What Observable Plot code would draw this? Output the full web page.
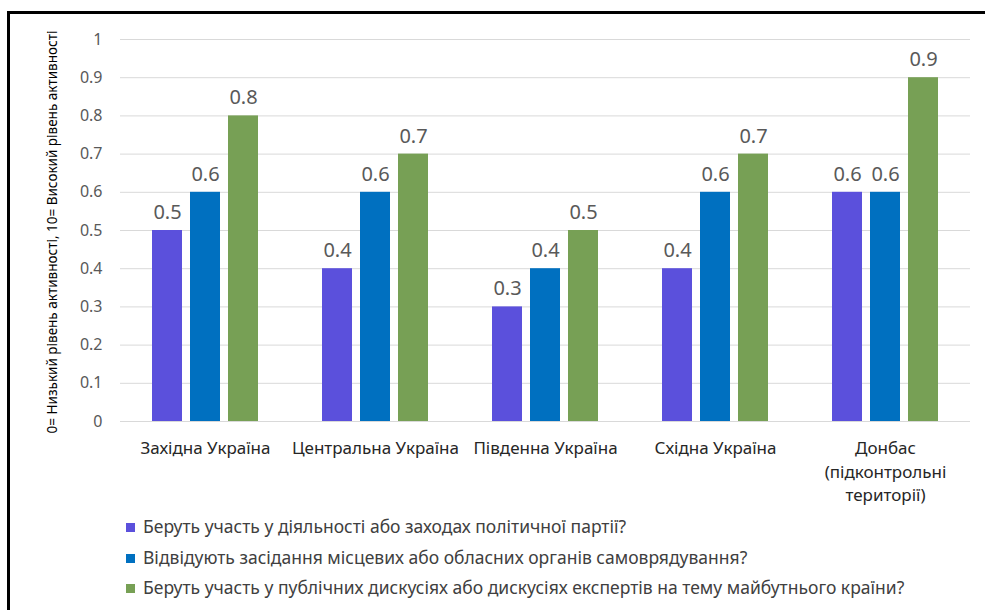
<!DOCTYPE html>
<html>
<head>
<meta charset="utf-8">
<script src="https://cdn.jsdelivr.net/npm/d3@7"></script>
<script src="https://cdn.jsdelivr.net/npm/@observablehq/plot@0.6"></script>
<style>
  html, body { margin: 0; padding: 0; background: #fff; width: 985px; height: 610px; overflow: hidden; }
  #frame { position: absolute; left: 7px; top: 11px; width: 1000px; height: 640px; border-left: 3px solid #000; border-top: 3px solid #000; box-sizing: border-box; }
  #chart { position: absolute; left: 0; top: 0; }
  #ylabel { position: absolute; left: 52px; top: 232px; transform: translate(-50%, -50%) rotate(-90deg); white-space: nowrap;
    font-family: "Noto Sans", sans-serif; font-size: 13.5px; color: #000; }
  #legend { position: absolute; left: 126px; top: 513px; font-family: "Noto Sans", sans-serif; font-size: 17.5px; color: #404040; }
  #legend .row { height: 30.5px; line-height: 27px; white-space: nowrap; }
  #legend .sw { display: inline-block; width: 9px; height: 9px; margin-right: 8px; vertical-align: 1px; }
</style>
</head>
<body>
<div id="frame"></div>
<div id="chart"></div>
<div id="ylabel"></div>
<div id="legend"></div>
<script>
const regions = ["Західна Україна", "Центральна Україна", "Південна Україна", "Східна Україна", "Донбас\n(підконтрольні\nтериторії)"];
const series = [
  "Беруть участь у діяльності або заходах політичної партії?",
  "Відвідують засідання місцевих або обласних органів самоврядування?",
  "Беруть участь у публічних дискусіях або дискусіях експертів на тему майбутнього країни?"
];
const colors = ["#5B50DC", "#0070C0", "#77A055"];
const party = [0.5, 0.4, 0.3, 0.4, 0.6];
const councils = [0.6, 0.6, 0.4, 0.6, 0.6];
const debates = [0.8, 0.7, 0.5, 0.7, 0.9];
const yTicks = [0, 0.1, 0.2, 0.3, 0.4, 0.5, 0.6, 0.7, 0.8, 0.9, 1];
const yLabel = "0= Низький рівень активності, 10= Високий рівень активності";

const valuesBySeries = [party, councils, debates];
const data = [];
regions.forEach((r, i) => {
  series.forEach((s, j) => data.push({region: r, series: s, value: valuesBySeries[j][i]}));
});

const chart = Plot.plot({
  width: 985,
  height: 505,
  marginLeft: 120,
  marginRight: 15,
  marginTop: 39,
  marginBottom: 84,
  style: {fontFamily: "Noto Sans, sans-serif", fontSize: "16px", background: "transparent"},
  fx: {domain: regions, paddingInner: 0, paddingOuter: 0, label: null, axis: null},
  x: {domain: series, paddingInner: 0.2105, paddingOuter: 0.842, axis: null},
  y: {domain: [0, 1], label: null, axis: null},
  color: {domain: series, range: colors},
  marks: [
    Plot.ruleY(yTicks, {y: d => d, stroke: "#d9d9d9"}),
    Plot.text(yTicks, {y: d => d, text: d => String(+d.toFixed(1)), frameAnchor: "left", textAnchor: "end",
      dx: -18, fill: "#595959", fontSize: 16, facetAnchor: "left"}),
    Plot.barY(data, {fx: "region", x: "series", y: "value", fill: "series"}),
    Plot.text(data, {fx: "region", x: "series", y: "value", text: d => String(d.value),
      dy: -18, fontSize: 20, fill: "#595959"}),
    Plot.axisFx({anchor: "bottom", tickSize: 0, tickPadding: 16, lineHeight: 1.38, label: null, fill: "#262626"})
  ]
});
document.getElementById("chart").appendChild(chart);
d3.select(chart).selectAll("[aria-label^='fx-axis tick label']").attr("font-size", 17);

document.getElementById("ylabel").textContent = yLabel;

const legend = document.getElementById("legend");
series.forEach((s, i) => {
  const row = document.createElement("div");
  row.className = "row";
  const sw = document.createElement("span");
  sw.className = "sw";
  sw.style.background = colors[i];
  row.appendChild(sw);
  row.appendChild(document.createTextNode(s));
  legend.appendChild(row);
});
</script>
</body>
</html>
